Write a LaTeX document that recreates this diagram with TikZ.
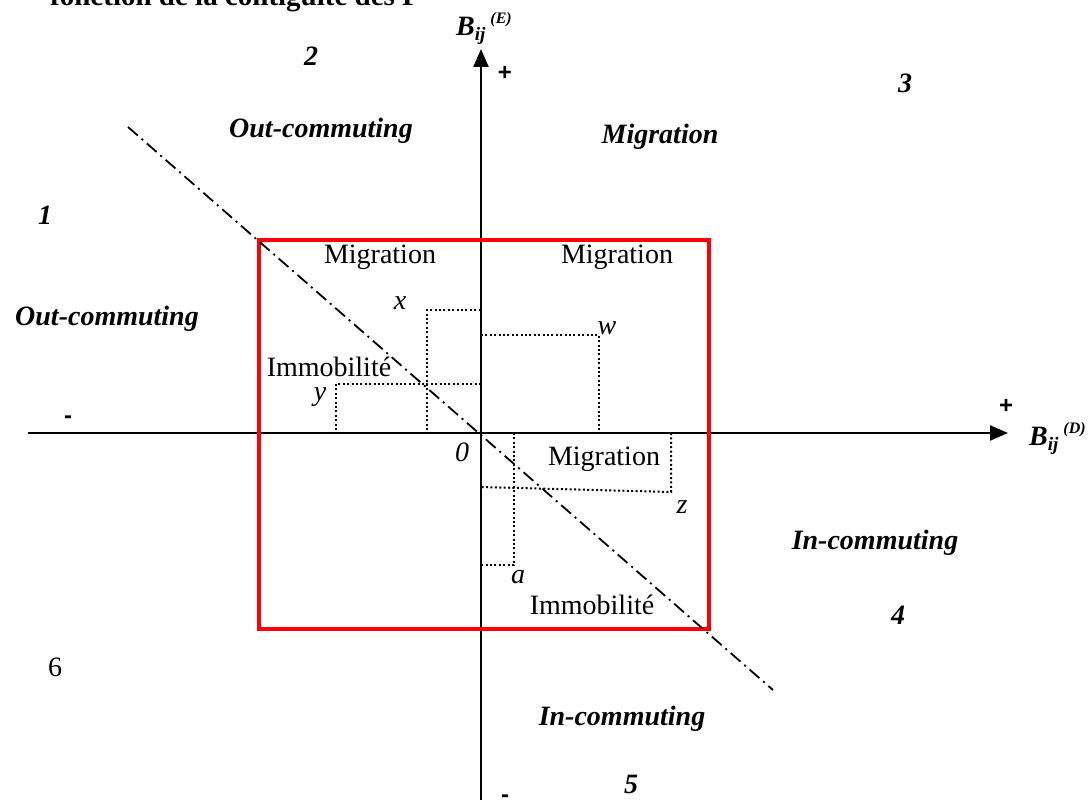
\documentclass[tikz,border=0pt]{standalone}
\usepackage{fontspec}
\setmainfont{Liberation Serif}
\newfontfamily\plusfont{Liberation Sans}
\usetikzlibrary{arrows.meta}
\begin{document}
\begin{tikzpicture}[x=1pt,y=-1pt,
  txt/.style={inner sep=0pt,font=\fontsize{28}{33}\selectfont},
  bitxt/.style={inner sep=0pt,font=\fontsize{28}{33}\selectfont\bfseries\itshape},
  vartxt/.style={inner sep=0pt,font=\fontsize{28}{33}\selectfont\itshape},
  signtxt/.style={inner sep=0pt,font=\fontsize{24}{28}\selectfont\plusfont\bfseries},
  axisline/.style={line width=2.2pt,-{Triangle[length=18pt,width=15pt]}},
  dotline/.style={line width=2pt,dash pattern=on 2pt off 2.4pt},
  diag/.style={line width=1.8pt,dash pattern=on 13pt off 5pt on 2pt off 5pt},
  redbox/.style={draw=red,line width=3.8pt}
]
\useasboundingbox (0,0) rectangle (1092,800);
\clip (0,0) rectangle (1092,800);

% title (cut at top)
\node[anchor=base west,inner sep=0pt,font=\fontsize{29}{34}\selectfont\bfseries] (title) at (50,6) {fonction de la contiguït\'e des P};

% axes
\coordinate (O) at (481,433);
\coordinate (vb) at (481,805);
\coordinate (vt) at (481,49);
\coordinate (hl) at (28,433);
\coordinate (hr) at (1008,433);
\draw[axisline] (vb) -- (vt);
\draw[axisline] (hl) -- (hr);

% red box
\draw[redbox] (259,240) rectangle (709,629);

% diagonal
\coordinate (d1) at (128,127);
\coordinate (d2) at (773,690);
\draw[diag] (d1) -- (d2);

% dotted rectangles
\draw[dotline] (427,430) -- (427,310) -- (481,310);
\draw[dotline] (336,430) -- (336,384) -- (481,384);
\draw[dotline] (481,335) -- (599,335) -- (599,433);
\draw[dotline] (671,433) -- (671,492) -- (481,487);
\draw[dotline] (514,433) -- (514,565) -- (481,565);

% axis labels
\node[anchor=base west,inner sep=0pt] (BE) at (456,36) {{\fontsize{28}{32}\selectfont\bfseries\itshape B}\raisebox{-5pt}{\fontsize{19}{22}\selectfont\bfseries\itshape ij}\hspace{5pt}\raisebox{12pt}{\fontsize{16}{18}\selectfont\bfseries\itshape (E)}};
\node[anchor=base west,inner sep=0pt] (BD) at (1029,445) {{\fontsize{28}{32}\selectfont\bfseries\itshape B}\raisebox{-5pt}{\fontsize{19}{22}\selectfont\bfseries\itshape ij}\hspace{5pt}\raisebox{12pt}{\fontsize{16}{18}\selectfont\bfseries\itshape (D)}};
\node[signtxt] (ptop) at (505,73) {+};
\node[signtxt] (pright) at (1006,406) {+};
\node[signtxt] (mleft) at (68,420) {-};
\node[signtxt] (mbot) at (505,799) {-};

% region numbers
\node[bitxt] (n1) at (45,215) {1};
\node[bitxt] (n2) at (311,56) {2};
\node[bitxt] (n3) at (905,83) {3};
\node[bitxt] (n4) at (898,615) {4};
\node[bitxt] (n5) at (631,784) {5};
\node[txt] (n6) at (55,667) {6};

% outer region labels
\node[bitxt] (oc1) at (321,131) {Out-commuting};
\node[bitxt] (mg1) at (660,137) {Migration};
\node[bitxt] (oc2) at (107,319) {Out-commuting};
\node[bitxt] (ic1) at (875,543) {In-commuting};
\node[bitxt] (ic2) at (622,719) {In-commuting};

% inner labels
\node[txt] (m1) at (380,257) {Migration};
\node[txt] (m2) at (617,257) {Migration};
\node[txt] (m3) at (604,459) {Migration};
\node[txt] (im1) at (329,367) {Immobilit\'e};
\node[txt] (im2) at (592,605) {Immobilit\'e};

% variables
\node[vartxt] (vx) at (400,303) {x};
\node[vartxt] (vy) at (320,397) {y};
\node[vartxt] (vw) at (607,328) {w};
\node[vartxt] (vz) at (682,507) {z};
\node[vartxt] (va) at (518,577) {a};
\node[vartxt] (v0) at (462,452) {0};
\end{tikzpicture}
\end{document}
